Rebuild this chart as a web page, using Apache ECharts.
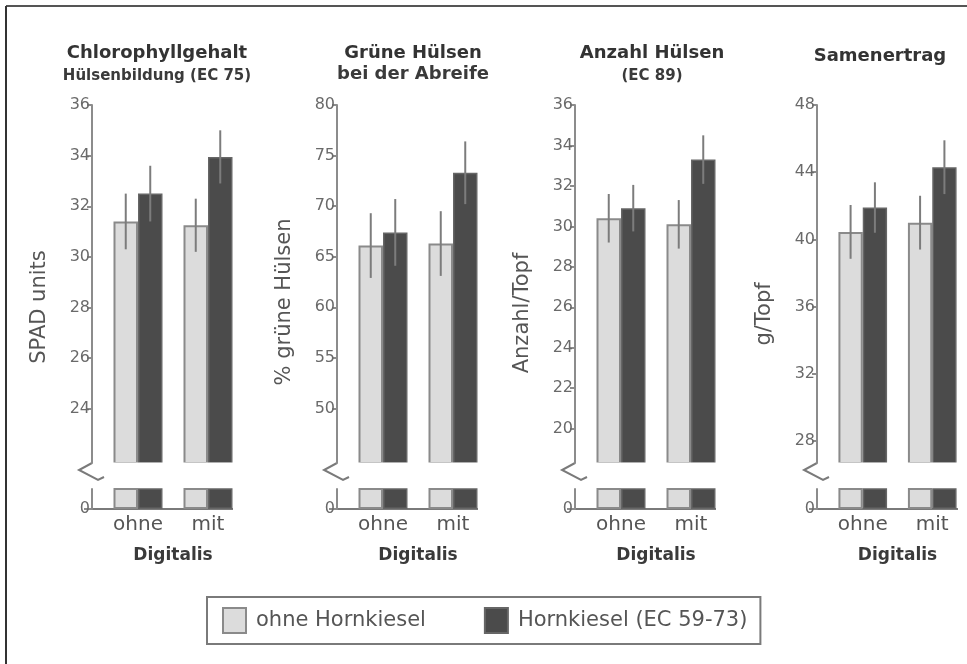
<!DOCTYPE html>
<html>
<head>
<meta charset="utf-8">
<title>Digitalis und Hornkiesel</title>
<script src="https://cdn.jsdelivr.net/npm/echarts@6/dist/echarts.min.js"></script>
<style>
  html, body { margin: 0; padding: 0; background: #fff; }
  #main { width: 967px; height: 664px; }
</style>
</head>
<body>
<div id="main"></div>
<script>
var categories = ['ohne', 'mit'];
var seriesNames = ['ohne Hornkiesel', 'Hornkiesel (EC 59-73)'];

var titles = ['Chlorophyllgehalt', 'Grüne Hülsen', 'Anzahl Hülsen', 'Samenertrag'];
var subtitles = ['Hülsenbildung (EC 75)', 'bei der Abreife', '(EC 89)', ''];
var yNames = ['SPAD units', '% grüne Hülsen', 'Anzahl/Topf', 'g/Topf'];

// mean per Digitalis group [ohne, mit]
var chloroOhneHK = [31.4, 31.25];
var chloroHK = [32.5, 33.95];
var gruenOhneHK = [66.1, 66.3];
var gruenHK = [67.4, 73.3];
var anzahlOhneHK = [30.4, 30.1];
var anzahlHK = [30.9, 33.3];
var ertragOhneHK = [40.45, 41.0];
var ertragHK = [41.9, 44.3];

// error bar half length
var chloroOhneHKErr = [1.1, 1.05];
var chloroHKErr = [1.1, 1.05];
var gruenOhneHKErr = [3.2, 3.2];
var gruenHKErr = [3.3, 3.1];
var anzahlOhneHKErr = [1.2, 1.2];
var anzahlHKErr = [1.15, 1.2];
var ertragOhneHKErr = [1.6, 1.6];
var ertragHKErr = [1.5, 1.6];

// tick labels
var chloroTicks = [24, 26, 28, 30, 32, 34, 36];
var gruenTicks = [50, 55, 60, 65, 70, 75, 80];
var anzahlTicks = [20, 22, 24, 26, 28, 30, 32, 34, 36];
var ertragTicks = [28, 32, 36, 40, 44, 48];

// value where the axis is broken
var axisBreaks = [21.86, 44.6, 18.3, 26.7];

var panels = [
    { ohne: chloroOhneHK, hk: chloroHK, ohneErr: chloroOhneHKErr, hkErr: chloroHKErr, ticks: chloroTicks },
    { ohne: gruenOhneHK, hk: gruenHK, ohneErr: gruenOhneHKErr, hkErr: gruenHKErr, ticks: gruenTicks },
    { ohne: anzahlOhneHK, hk: anzahlHK, ohneErr: anzahlOhneHKErr, hkErr: anzahlHKErr, ticks: anzahlTicks },
    { ohne: ertragOhneHK, hk: ertragHK, ohneErr: ertragOhneHKErr, hkErr: ertragHKErr, ticks: ertragTicks }
];

// layout
var axisXs = [92, 337, 575, 817];
var titleXs = [157, 413, 652, 880];
var yNameYs = [307, 302, 313, 314];
var upperTop = 105;
var upperBottom = 463;
var lowerTop = 489;
var zeroY = 509;
var gridShift = 11;
var gridWidth = 140;

var FONT = 'DejaVu Sans';
var lightStyle = { color: '#dcdcdc', borderColor: '#8a8a8a', borderWidth: 2 };
var darkStyle = { color: '#4b4b4b', borderColor: '#666666', borderWidth: 1.5 };
var axisColor = '#8c8c8c';
var errColor = '#7c7c7c';

function errSeries(p, values, errs, side) {
    var data = [];
    for (var i = 0; i < values.length; i++) {
        data.push([i, values[i], errs[i]]);
    }
    return {
        type: 'custom',
        xAxisIndex: p,
        yAxisIndex: p,
        z: 5,
        silent: true,
        data: data,
        encode: { x: 0, y: 1 },
        renderItem: function(params, api) {
            var ci = api.value(0);
            var v = api.value(1);
            var e = api.value(2);
            var top = api.coord([ci, v + e]);
            var bot = api.coord([ci, v - e]);
            var band = api.size([1, 0])[0];
            var off = side * band * 0.175;
            return {
                type: 'line',
                shape: { x1: top[0] + off, y1: top[1], x2: bot[0] + off, y2: bot[1] },
                style: { stroke: errColor, lineWidth: 2 }
            };
        }
    };
}

var grids = [], xAxes = [], yAxes = [], series = [], graphics = [];

for (var p = 0; p < panels.length; p++) {
    var pn = panels[p];
    var ax = axisXs[p];
    var min = axisBreaks[p];
    var max = pn.ticks[pn.ticks.length - 1];

    // upper part of the broken axis
    grids[p] = { left: ax + gridShift, width: gridWidth, top: upperTop, height: upperBottom - upperTop };
    xAxes[p] = { type: 'category', gridIndex: p, data: categories, show: false };
    yAxes[p] = {
        type: 'value', gridIndex: p, min: min, max: max, offset: gridShift,
        splitLine: { show: false },
        axisLine: { show: true, lineStyle: { color: axisColor, width: 2 } },
        axisTick: { show: true, length: 5, customValues: pn.ticks, lineStyle: { color: axisColor, width: 2 } },
        axisLabel: { customValues: pn.ticks, color: '#6a6a6a', fontFamily: FONT, fontSize: 16, margin: 2 }
    };

    // lower stub with the zero
    grids[p + 4] = { left: ax + gridShift, width: gridWidth, top: lowerTop, height: zeroY - lowerTop };
    xAxes[p + 4] = {
        type: 'category', gridIndex: p + 4, data: categories,
        axisLine: { show: false }, axisTick: { show: false },
        axisLabel: { color: '#555', fontFamily: FONT, fontSize: 20, margin: 6 },
        name: 'Digitalis', nameLocation: 'middle', nameGap: 38,
        nameTextStyle: { color: '#3a3a3a', fontFamily: FONT, fontSize: 17, fontWeight: 'bold' }
    };
    yAxes[p + 4] = {
        type: 'value', gridIndex: p + 4, min: 0, max: 1, offset: gridShift,
        splitLine: { show: false },
        axisLine: { show: true, lineStyle: { color: axisColor, width: 2 } },
        axisTick: { show: true, length: 8, customValues: [0], lineStyle: { color: axisColor, width: 2 } },
        axisLabel: { customValues: [0], color: '#6a6a6a', fontFamily: FONT, fontSize: 16, margin: 2 }
    };

    for (var k = 0; k < 2; k++) {
        var gi = k === 0 ? p : p + 4;
        series.push({
            type: 'bar', name: seriesNames[0], xAxisIndex: gi, yAxisIndex: gi,
            data: pn.ohne, itemStyle: lightStyle, barGap: '0%', barCategoryGap: '30%', clip: true, silent: true
        });
        series.push({
            type: 'bar', name: seriesNames[1], xAxisIndex: gi, yAxisIndex: gi,
            data: pn.hk, itemStyle: darkStyle, barGap: '0%', barCategoryGap: '30%', clip: true, silent: true
        });
    }
    series.push(errSeries(p, pn.ohne, pn.ohneErr, -1));
    series.push(errSeries(p, pn.hk, pn.hkErr, 1));

    // the bars run on through the break, so no bottom edge above it
    graphics.push({
        type: 'line', silent: true, z: 100,
        shape: { x1: ax + gridShift + 2, y1: upperBottom + 0.5, x2: ax + gridShift + gridWidth, y2: upperBottom + 0.5 },
        style: { stroke: '#fff', lineWidth: 2 }
    });
    // x axis line from the y axis to the last bar
    graphics.push({
        type: 'line', silent: true,
        shape: { x1: ax, y1: zeroY, x2: ax + gridShift + gridWidth - 10, y2: zeroY },
        style: { stroke: '#7a7a7a', lineWidth: 2 }
    });
    // break mark
    graphics.push({
        type: 'polyline', silent: true,
        shape: { points: [[ax, upperBottom], [ax - 13, upperBottom + 7], [ax + 6, upperBottom + 17], [ax + 12, upperBottom + 14]] },
        style: { stroke: '#7a7a7a', lineWidth: 2, fill: null }
    });
    // panel titles
    var tx = titleXs[p];
    graphics.push({
        type: 'text', silent: true, x: tx, y: subtitles[p] ? 53 : 56,
        style: { text: titles[p], align: 'center', verticalAlign: 'middle', fill: '#333', font: 'bold 18px "' + FONT + '"' }
    });
    if (subtitles[p]) {
        // the second line of panel 2 is set as large as the title
        var subSize = p === 1 ? 18 : 15;
        graphics.push({
            type: 'text', silent: true, x: tx, y: p === 1 ? 74 : 76,
            style: { text: subtitles[p], align: 'center', verticalAlign: 'middle', fill: '#3a3a3a', font: 'bold ' + subSize + 'px "' + FONT + '"' }
        });
    }
    // y axis names
    graphics.push({
        type: 'text', silent: true, x: ax - 52, y: yNameYs[p], rotation: Math.PI / 2,
        style: { text: yNames[p], align: 'center', verticalAlign: 'middle', fill: '#555', font: '21px "' + FONT + '"' }
    });
}

// frame (only top and left edges are in the picture)
graphics.push({ type: 'line', silent: true, shape: { x1: 6, y1: 6, x2: 967, y2: 6 }, style: { stroke: '#555', lineWidth: 2 } });
graphics.push({ type: 'line', silent: true, shape: { x1: 6, y1: 6, x2: 6, y2: 664 }, style: { stroke: '#333', lineWidth: 2 } });

var option = {
    animation: false,
    backgroundColor: '#fff',
    legend: {
        data: seriesNames,
        left: 207,
        top: 597,
        icon: 'rect',
        itemWidth: 23,
        itemHeight: 25,
        itemGap: 58,
        padding: [10, 13, 10, 15],
        borderColor: '#7a7a7a',
        borderWidth: 2,
        selectedMode: false,
        textStyle: { color: '#555', fontFamily: FONT, fontSize: 21, padding: [0, 0, 0, 5] }
    },
    grid: grids,
    xAxis: xAxes,
    yAxis: yAxes,
    series: series,
    graphic: graphics
};

var chart = echarts.init(document.getElementById('main'));
chart.setOption(option);
</script>
</body>
</html>
